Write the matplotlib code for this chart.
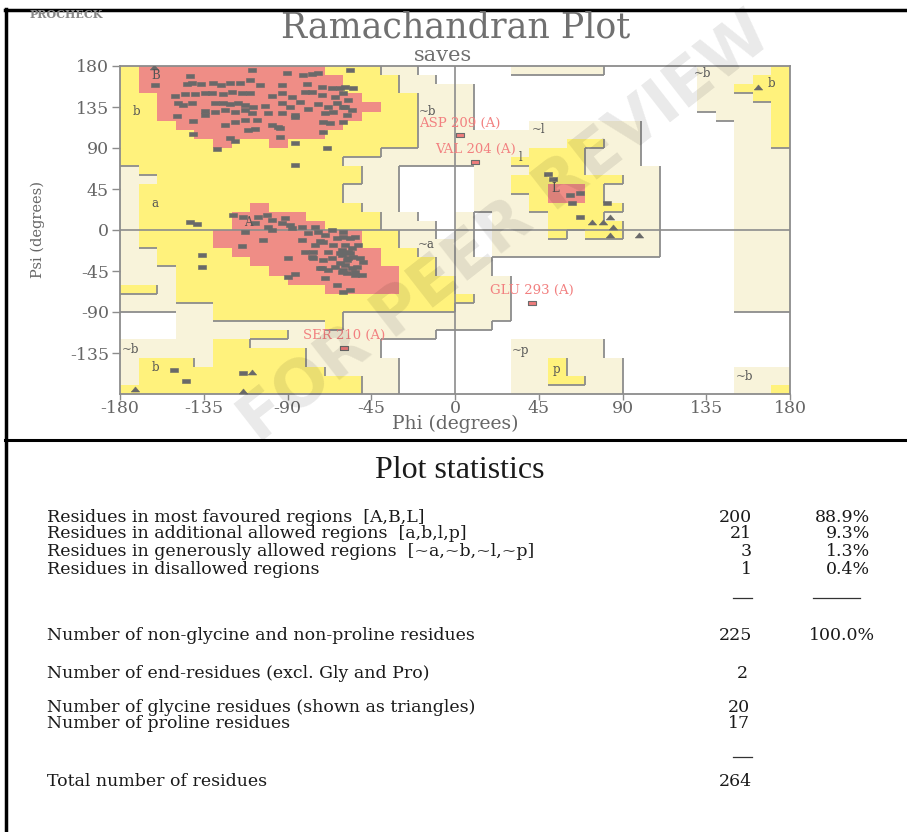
import numpy as np
import matplotlib
matplotlib.use("Agg")
import matplotlib.pyplot as plt
from matplotlib.colors import ListedColormap, BoundaryNorm
from matplotlib.collections import LineCollection

# Region map in 10 degree cells. Rows run from psi 180 down to -180,
# columns from phi -180 to 180.  R core, Y allowed, G generous, . disallowed
region_rows = [
    "YRRRRR RRRRRY YYGG.. ...GGG GG.... .GGGGY",
    "YRRRRR RRRRRR YYYGG. ...... ...... .GGGYY",
    "YRRRRR RRRRRR YYYGGG G..... ...... .GGYYY",
    "YYRRRR RRRRRR RYYYGG G..... ...... .GGGYY",
    "YYRRRR RRRRRR RRYYGG G..... ...... .GGGGY",
    "YYRRRR RRRRRR RYYYGG G..... ...... ..GGGY",
    "YYYRRR RRRRRR YYYYGG G...GG GGGG.. ...GGY",
    "YYYYRR RRRRRY YYYYGG GGGGGG GGGG.. ...GGY",
    "YYYYYR YYRYYY YYYYGG GGGGGG YYGG.. ...GGY",
    "YYYYYY YYYYYY YYGGGG GGGGYY YGGG.. ...GGG",
    "YYYYYY YYYYYY GGGGGG GGGYYY YGGG.. ...GGG",
    "GYYYYY YYYYYY YGG... .GGGYY YGGGG. ...GGG",
    "GGYYYY YYYYYY YGG... .GGYYY YYYGG. ...GGG",
    "GYYYYY YYYYYY GGG... .GGYYR RYGGG. ...GGG",
    "GYYYYY YYYYYY GGG... .GGGYR RYGGG. ...GGG",
    "GYYYYY YRYYYY YGG... .GGGYY YYYGG. ...GGG",
    "GYYYYY RRRRYY YYGG.. G.GGGY YYGGG. ...GGG",
    "GYYYYY RRRRRY YYGGG. G.GGGY YYYGG. ...GGG",
    "GYYYYR RRRRRR RYYGG. G.GGGY GYYGG. ...GGG",
    "GYYYYR RRRRRR RYYGGG G.GGGG GGGGG. ...GGG",
    "GGYYYY RRRRRR RRYYGG G.GGGG GGGGG. ...GGG",
    "GGYYYY YRRRRR RRYYYG GG.... ...... ...GGG",
    "GGGYYY YYRRRR RRRYYG GG.... ...... ...GGG",
    "GGGYYY YYYRRR RRRYYY GGG... ...... ...GGG",
    "YYGYYY YYYYYR RRRYYY GGG... ...... ...GGG",
    "GGGYYY YYYYYY YYYYYY YGG... ...... ...GGG",
    "GGGGGY YYYYYY YYYYYY GGG... ...... ...GGG",
    "...GGY YYYYYY GGGGGG GGG... ...... ......",
    "...GGG GGGGGY GGGGGG GG.... ...... ......",
    "...GGG GYYGGG GGGGG. ...... ...... ......",
    "GGGGGY YGGGGG GG.... ...GGG GG.... ......",
    "GGGGGY YYYYGG GG.... ...GGG GG.... ......",
    "GYYYGY YYYYGG GGG... ...GGY GGG... ......",
    "GYYYYY YYYYYG GGG... ...GGY GGG... ...GGG",
    "GYYYYY YYYYYY YGG... ...GGY YGG... ...GGG",
    "YYYYYY YYYYYY YGG... ...GGG GGG... ...GGY",
]

# non-glycine, non-proline residues (phi, psi)
res_phi = [
    -142.4, -141.5, -161.2, -109.3, -90.5, -81.5, -77.0, -73.4, -144.2, -136.5,
    -129.9, -125.7, -120.9, -115.5, -110.2, -104.8, -93.1, -79.7, -71.7, -66.3,
    -61.8, -150.5, -145.1, -139.7, -134.3, -130.8, -124.5, -120.0, -114.6, -110.2,
    -98.5, -93.1, -87.8, -80.6, -77.0, -71.7, -64.5, -148.7, -146.0, -141.5,
    -129.0, -124.5, -120.9, -116.4, -112.8, -108.4, -102.1, -93.1, -88.7, -83.3,
    -78.8, -73.4, -68.1, -63.6, -60.0, -134.3, -129.0, -123.6, -118.2, -112.8,
    -109.3, -100.3, -93.1, -86.0, -69.9, -65.4, -149.6, -140.6, -134.3, -123.6,
    -118.2, -112.8, -106.6, -98.5, -94.0, -86.0, -70.8, -67.2, -140.6, -111.0,
    -107.5, -94.9, -94.0, -120.9, -118.2, -86.0, -70.8, -69.0, -128.1, -86.0,
    -56.4, -59.1, -54.6, -60.0, -57.3, -59.1, -55.5, -58.2, -60.0,
    -142.4, -138.8, -119.1, -113.7, -105.7, -101.2, -98.5, -93.1, -91.4, -88.7,
    -82.4, -75.2, -107.5, -100.3, -136.1, -135.8, -114.6, -103.0, -112.8, -98.5,
    -89.6, -89.6, -86.0, -82.4, -87.8, -76.1, -73.4, -70.8, -66.3, -63.6,
    -68.1, -60.9, -71.7, -64.5, -66.3, -75.2, -80.6, -60.0, -78.8, -69.9,
    -63.6, -60.0, -56.4, -53.7, -59.1, -55.5, -52.0, -60.9, -57.3, -54.6,
    -51.0, -59.1, -55.5, -52.8, -58.2, -53.7, -50.2, -60.0, -56.4, -60.9,
    -57.3, -49.3, -77.0, -72.5, -69.9, -65.4, -61.8, -56.4, -58.2, -61.8,
    -60.0, -53.7, -72.5, -68.1, -70.8, -76.1,
    -151.0, -144.5, -114.0, 50.2, 52.9, 61.8, 67.2, 62.7, 67.2, 81.5,
]
res_psi = [
    169.4, 161.0, 159.2, 175.6, 172.7, 170.1, 171.2, 172.0, 160.3, 160.3,
    161.0, 159.2, 161.0, 161.7, 164.6, 159.2, 159.2, 160.3, 157.3, 155.5,
    155.5, 147.1, 148.9, 149.3, 150.0, 150.0, 148.9, 151.8, 150.0, 150.0,
    147.1, 150.0, 145.6, 151.8, 151.8, 148.2, 146.4, 139.8, 137.2, 139.0,
    139.0, 139.8, 138.3, 139.0, 137.2, 135.4, 136.1, 139.0, 135.4, 140.9,
    132.4, 138.3, 135.4, 139.0, 135.4, 131.0, 129.9, 131.7, 129.9, 131.7,
    128.0, 128.0, 128.8, 126.2, 128.8, 129.9, 125.1, 120.0, 126.2, 115.2,
    118.9, 120.7, 120.7, 115.2, 111.6, 123.7, 118.9, 117.1, 105.4, 109.8,
    110.5, 113.4, 101.7, 100.6, 97.7, 95.9, 108.0, 89.6, 88.5, 71.3,
    175.6, 157.3, 155.5, 150.0, 142.7, 135.4, 131.7, 126.2, 118.9,
    9.0, 6.6, 16.5, 14.6, 14.6, 16.5, 11.0, 7.3, 12.8, 5.5,
    3.7, 3.7, 7.3, 3.7, -27.4, -41.0, -17.2, -11.0, -1.8, 0.0,
    -31.1, -51.2, -48.7, -11.0, 1.8, -31.1, -1.8, -12.8, 0.0, -9.1,
    -23.8, -22.0, -42.1, -40.2, -31.1, -16.5, -23.8, -1.8, -3.7, -53.0,
    -60.4, -7.3, -9.1, -7.3, -16.5, -20.1, -16.5, -27.4, -31.1, -29.3,
    -31.1, -38.4, -42.1, -40.2, -47.6, -49.4, -49.4, -67.7, -65.9, -45.7,
    -23.8, -34.8, -29.3, -11.7, -5.5, -16.5, -25.6, -25.6, -32.9, -36.6,
    -43.9, -45.7, -42.1, -43.9, -32.9, -23.8,
    -153.7, -165.8, -157.0, 61.4, 55.6, 38.4, 40.3, 29.3, 13.9, 29.3,
]

# glycines, drawn as triangles
gly_phi = [163.0, 73.4, 79.7, 83.3, 85.0, 83.3, 99.0, -172.0, -114.0, -109.0, -161.7]
gly_psi = [157.0, 9.0, 9.0, 14.6, 3.6, -5.5, -5.5, -175.0, -176.5, -155.6, 179.0]

# residues outside the allowed regions, labelled in red
flag_names = ["ASP 209 (A)", "VAL 204 (A)", "GLU 293 (A)", "SER 210 (A)"]
flag_phi = [2.7, 10.8, 41.2, -59.5]
flag_psi = [104.0, 75.0, -79.8, -129.0]

region_names = ["B", "b", "a", "A", "~b", "~l", "l", "L", "~a", "~b", "b",
                "~p", "p", "~b", "b", "~b"]
region_name_phi = [-161, -171, -161, -111, -15, 45, 35, 54, -15.6, -174.6,
                   -161, 35, 54.7, 133, 170, 155.8]
region_name_psi = [170, 130, 29, 8, 130, 110, 80, 45, -15.7, -131, -151,
                   -132, -152.6, 172, 161, -161]

stat_labels = ["Residues in most favoured regions  [A,B,L]",
               "Residues in additional allowed regions  [a,b,l,p]",
               "Residues in generously allowed regions  [~a,~b,~l,~p]",
               "Residues in disallowed regions"]
stat_counts = [200, 21, 3, 1]
stat_pcts = [88.9, 9.3, 1.3, 0.4]
nonglyc_count = 225
end_count = 2
gly_count = 20
pro_count = 17
total_count = 264

fig = plt.figure(figsize=(9.07, 8.32), dpi=100)

# pixel-coordinate layer for frame, titles and the statistics table
bg = fig.add_axes([0, 0, 1, 1])
bg.set_xlim(0, 907)
bg.set_ylim(832, 0)
bg.axis("off")

ax = fig.add_axes([120 / 907, 1 - 394 / 832, 670 / 907, 328 / 832])

code = {".": 0, "G": 1, "Y": 2, "R": 3}
grid = np.array([[code[ch] for ch in row.replace(" ", "")] for row in region_rows])
phi_edges = np.arange(-180, 181, 10)
psi_edges = np.arange(180, -181, -10)

cmap = ListedColormap(["white", "#F8F3DA", "#FFF27C", "#EF8D86"])
norm = BoundaryNorm([-0.5, 0.5, 1.5, 2.5, 3.5], 4)
ax.pcolormesh(phi_edges, psi_edges, grid, cmap=cmap, norm=norm, zorder=0)

# shaded edges on the right and lower sides of allowed / generous areas
segs = []
n = grid.shape[0]
for r in range(n):
    for c in range(n):
        lv = grid[r, c]
        if lv not in (1, 2):
            continue
        if c < n - 1 and grid[r, c + 1] < lv:
            segs.append([(phi_edges[c + 1], psi_edges[r]), (phi_edges[c + 1], psi_edges[r + 1])])
        if r < n - 1 and grid[r + 1, c] < lv:
            segs.append([(phi_edges[c], psi_edges[r + 1]), (phi_edges[c + 1], psi_edges[r + 1])])
ax.add_collection(LineCollection(segs, colors="#8c8c8c", linewidths=1.3, zorder=1))

ax.axhline(0, color="#8c8c8c", lw=1.2, zorder=2)
ax.axvline(0, color="#8c8c8c", lw=1.2, zorder=2)

rect = [(-1, -0.55), (1, -0.55), (1, 0.55), (-1, 0.55), (-1, -0.55)]
tri = [(-1, -0.6), (1, -0.6), (0, 0.6), (-1, -0.6)]
ax.plot(res_phi, res_psi, ls="none", marker=rect, markersize=5.8,
        mfc="#696969", mec="#696969", mew=0.4, zorder=4)
ax.plot(gly_phi, gly_psi, ls="none", marker=tri, markersize=6,
        mfc="#696969", mec="#696969", mew=0.4, zorder=4)
ax.plot(flag_phi, flag_psi, ls="none", marker=rect, markersize=5.8,
        mfc="#F07C7C", mec="#6b6b6b", mew=0.8, zorder=4)
for name, x, y in zip(flag_names, flag_phi, flag_psi):
    ax.text(x, y + 6, name, ha="center", va="bottom", fontsize=9.5,
            family="DejaVu Serif", color="#F28080", zorder=5)

for name, x, y in zip(region_names, region_name_phi, region_name_psi):
    ax.text(x, y, name, ha="center", va="center", fontsize=8.5,
            family="DejaVu Serif", color="#555555", zorder=5)

ax.set_xlim(-180, 180)
ax.set_ylim(-180, 180)
xt = list(range(-180, 181, 45))
yt = list(range(-135, 181, 45))
ax.set_xticks(xt)
ax.set_xticklabels([str(v) for v in xt])
ax.set_yticks(yt)
ax.set_yticklabels([str(v) for v in yt])
ax.tick_params(direction="out", length=6, width=1, color="#8c8c8c",
               labelcolor="#666666", labelsize=12.5, pad=2)
ax.tick_params(axis="x", length=4, pad=0)
for lab in ax.get_xticklabels() + ax.get_yticklabels():
    lab.set_family("DejaVu Serif")
for sp in ax.spines.values():
    sp.set_color("#8c8c8c")
    sp.set_linewidth(1.3)
ax.set_xlabel("Phi (degrees)", family="DejaVu Serif", fontsize=13.5,
              color="#666666", labelpad=-1)
ax.set_ylabel("Psi (degrees)", family="DejaVu Serif", fontsize=10.5,
              color="#666666", labelpad=18)

# titles
bg.text(30, 15, "PROCHECK", fontsize=8, family="DejaVu Serif", weight="bold",
        color="#888888", va="center")
bg.text(456, 37, "Ramachandran Plot", fontsize=25, family="DejaVu Serif",
        color="#707070", ha="center", va="baseline")
bg.text(443, 61, "saves", fontsize=15, family="DejaVu Serif",
        color="#707070", ha="center", va="baseline")

# watermark across the upper panel, above the plot
fig.text(505, 228, "FOR PEER REVIEW", transform=bg.transData, fontsize=46,
         family="DejaVu Sans", weight="bold", rotation=38, ha="center",
         va="center", color="#000000", alpha=0.085, zorder=5)

# frame
bg.plot([6, 6], [9, 832], color="black", lw=2.5)
bg.plot([5, 907], [10, 10], color="black", lw=2.5)
bg.plot([5, 907], [440, 440], color="black", lw=2.2)

# statistics table
tfont = dict(family="DejaVu Serif", fontsize=12.5, color="#1a1a1a", va="center")
bg.text(460, 470, "Plot statistics", ha="center", family="Liberation Serif",
        fontsize=23, color="#1a1a1a", va="center")
row_y = [517, 534, 551, 569]
for lab, cnt, pct, y in zip(stat_labels, stat_counts, stat_pcts, row_y):
    bg.text(47, y, lab, ha="left", **tfont)
    bg.text(752, y, str(cnt), ha="right", **tfont)
    bg.text(870, y, f"{pct:.1f}%", ha="right", **tfont)
for x0, x1 in [(733, 752), (813, 860)]:
    bg.plot([x0, x1], [598, 598], color="#333333", lw=0.9)
bg.text(47, 636, "Number of non-glycine and non-proline residues", ha="left", **tfont)
bg.text(752, 636, str(nonglyc_count), ha="right", **tfont)
bg.text(875, 636, "100.0%", ha="right", **tfont)
bg.text(47, 673, "Number of end-residues (excl. Gly and Pro)", ha="left", **tfont)
bg.text(748, 673, str(end_count), ha="right", **tfont)
bg.text(47, 707, "Number of glycine residues (shown as triangles)", ha="left", **tfont)
bg.text(750, 707, str(gly_count), ha="right", **tfont)
bg.text(47, 724, "Number of proline residues", ha="left", **tfont)
bg.text(750, 724, str(pro_count), ha="right", **tfont)
bg.plot([733, 752], [757, 757], color="#333333", lw=0.9)
bg.text(47, 781, "Total number of residues", ha="left", **tfont)
bg.text(752, 781, str(total_count), ha="right", **tfont)

fig.savefig("out.png", dpi=100)
